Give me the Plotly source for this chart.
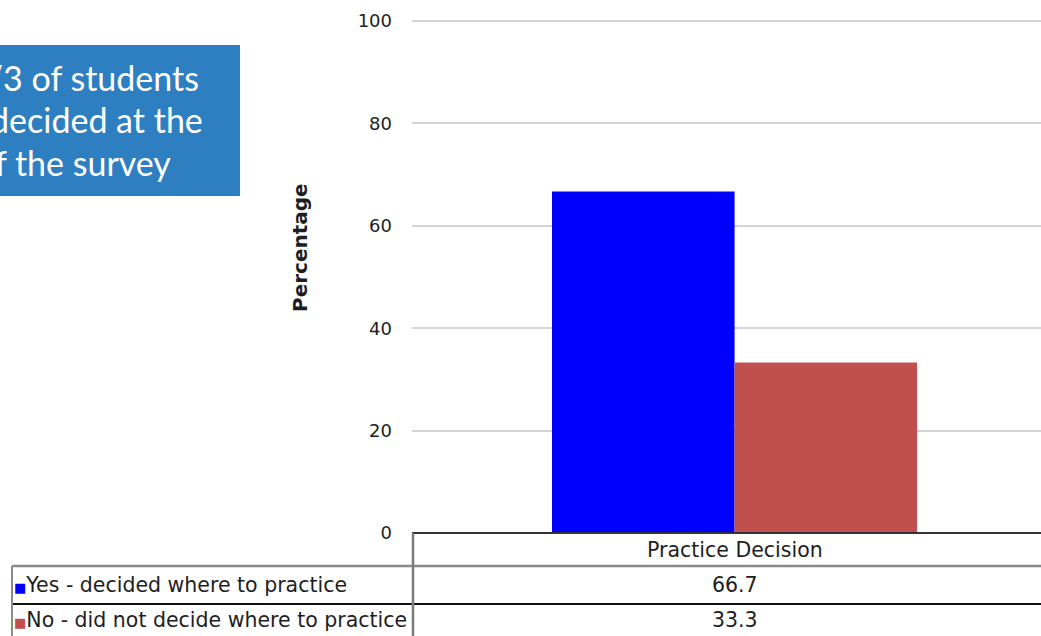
import plotly.graph_objects as go

# ---- data -------------------------------------------------------------
categories = ["Practice Decision"]
series_names = ["Yes - decided where to practice", "No - did not decide where to practice"]
series_values = [[66.7], [33.3]]
series_colors = ["#0000FF", "#C0504D"]
y_ticks = [0, 20, 40, 60, 80, 100]
callout_lines = ["2/3 of students", "decided at the", "of the survey"]

W, H = 1041, 636


def px(x):
    return x / W


def py(y):
    return 1 - y / H


TXT = "#1e1e1e"
FONT = "DejaVu Sans"

# vertical scale: 0 sits at y=533 px, 100 at y=21 px; the plot area is
# padded a little above 100 so its grid line is not clipped at the edge
Y0_PX, Y100_PX, TOP_PX = 533, 21, 12
PX_PER_UNIT = (Y0_PX - Y100_PX) / 100
y_top = (Y0_PX - TOP_PX) / PX_PER_UNIT

fig = go.Figure()
for name, vals, col in zip(series_names, series_values, series_colors):
    fig.add_trace(go.Bar(x=categories, y=vals, name=name,
                         marker=dict(color=col, line=dict(width=0))))

fig.update_layout(
    width=W, height=H,
    margin=dict(l=0, r=0, t=0, b=0),
    paper_bgcolor="white", plot_bgcolor="white",
    showlegend=False,
    barmode="group", bargap=0.434, bargroupgap=0,
    font=dict(family=FONT, color=TXT, size=18),
    xaxis=dict(domain=[px(412), 1], type="category", range=[-0.5, 0.475],
               showticklabels=False, showgrid=False, zeroline=False,
               showline=False, automargin=False),
    yaxis=dict(domain=[py(Y0_PX), py(TOP_PX)], range=[0, y_top], tickvals=y_ticks,
               showgrid=True, gridcolor="#d4d4d4", gridwidth=1.5,
               zeroline=False, showline=False, ticks="",
               ticklabelstandoff=19, automargin=False,
               tickfont=dict(family=FONT, size=18, color=TXT)),
)

# axis title
fig.add_annotation(text="<b>Percentage</b>", xref="paper", yref="paper",
                   x=px(300), y=py(248), textangle=-90, showarrow=False,
                   xanchor="center", yanchor="middle",
                   font=dict(family=FONT, size=20, color=TXT))

# ---- data table under the plot ---------------------------------------
line_specs = [
    (412, 533, W, 533, "#333333", 2),
    (12, 566, W, 566, "#8a8a8a", 2.5),
    (12, 604, W, 604, "#111111", 2),
    (413, 533, 413, H, "#7a7a7a", 2.5),
    (12, 566, 12, H, "#8a8a8a", 2),
]
for x0, y0, x1, y1, c, w in line_specs:
    fig.add_shape(type="line", xref="paper", yref="paper",
                  x0=px(x0), y0=py(y0), x1=px(x1), y1=py(y1),
                  line=dict(color=c, width=w))

TBL = 20.5
fig.add_annotation(text=categories[0], xref="x", yref="paper",
                   x=categories[0], y=py(550), showarrow=False,
                   xanchor="center", yanchor="middle",
                   font=dict(family=FONT, size=TBL, color=TXT))

row_centers = [585, 620]
for name, vals, col, yc in zip(series_names, series_values, series_colors, row_centers):
    fig.add_annotation(text=f"{vals[0]:.1f}", xref="x", yref="paper",
                       x=categories[0], y=py(yc), showarrow=False,
                       xanchor="center", yanchor="middle",
                       font=dict(family=FONT, size=TBL, color=TXT))
    fig.add_annotation(
        text=f"<span style='color:{col};font-size:13px'>■</span>{name}",
        xref="paper", yref="paper", x=px(12), y=py(yc),
        xanchor="left", yanchor="middle", showarrow=False,
        font=dict(family=FONT, size=TBL, color=TXT))

# ---- callout box ------------------------------------------------------
fig.add_shape(type="rect", xref="paper", yref="paper",
              x0=px(-2), y0=py(196), x1=px(240), y1=py(45),
              fillcolor="#2E7FC2", line=dict(width=0), layer="below")
for txt, right, yc in zip(callout_lines, [201, 205, 173], [78, 120, 162]):
    fig.add_annotation(text=txt, xref="paper", yref="paper",
                       x=px(right), y=py(yc), xanchor="right", yanchor="middle",
                       showarrow=False,
                       font=dict(family="Lato", size=34, color="white"))

fig.write_html("out.html")
